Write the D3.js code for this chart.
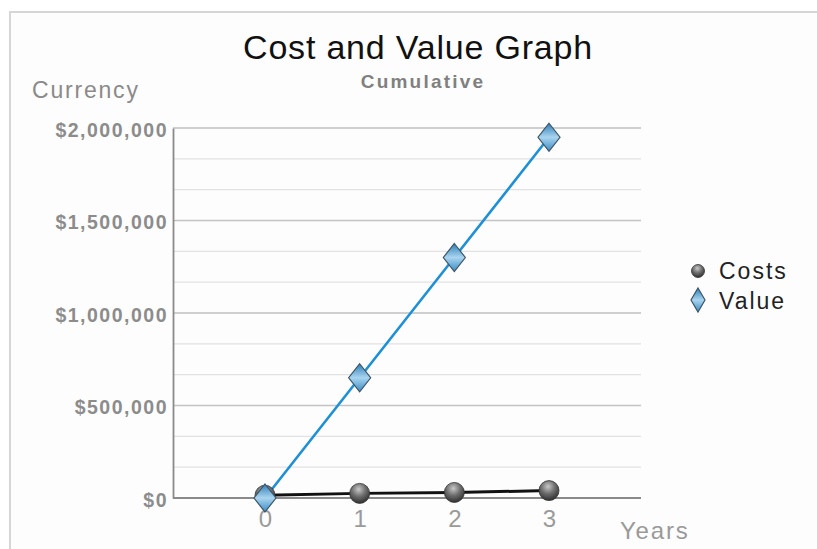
<!DOCTYPE html>
<html><head><meta charset="utf-8">
<script src="https://cdn.jsdelivr.net/npm/d3@7"></script>
<style>html,body{margin:0;padding:0;background:#fff;}svg{display:block;}</style>
</head><body>
<script>
const years = [0, 1, 2, 3];
const costs = [15000, 25000, 30000, 40000];
const values = [0, 650000, 1300000, 1950000];
const yTicks = [0, 500000, 1000000, 1500000, 2000000];
const seriesNames = ["Costs", "Value"];
const title = "Cost and Value Graph";
const subtitle = "Cumulative";
const yTitle = "Currency";
const xTitle = "Years";

(function () {
const W = 817, H = 549;
const FF = "Liberation Sans, Arial, Helvetica, sans-serif";
const svg = d3.select("body").append("svg").attr("width", W).attr("height", H);
const defs = svg.append("defs");
const g1 = defs.append("radialGradient").attr("id","ball").attr("cx","45%").attr("cy","30%").attr("r","70%");
g1.append("stop").attr("offset","0%").attr("stop-color","#c8c8c8");
g1.append("stop").attr("offset","50%").attr("stop-color","#6e6e6e");
g1.append("stop").attr("offset","100%").attr("stop-color","#303030");
const g2 = defs.append("linearGradient").attr("id","dia").attr("x1","0").attr("y1","0").attr("x2","0").attr("y2","1");
g2.append("stop").attr("offset","0%").attr("stop-color","#2f7fb8");
g2.append("stop").attr("offset","50%").attr("stop-color","#a9d4ef");
g2.append("stop").attr("offset","100%").attr("stop-color","#3a8cc6");

// frame
svg.append("rect").attr("x",0).attr("y",0).attr("width",W).attr("height",H).attr("fill","#fff");
svg.append("rect").attr("x",10).attr("y",12).attr("width",W).attr("height",H).attr("fill","#fdfdfd")
  .attr("stroke","#d6d6d6").attr("stroke-width",2);

const pL = 173, pR = 641, pT = 128, pB = 498;
const x = d3.scaleLinear().domain([0, 3]).range([265, 549]);
const y = d3.scaleLinear().domain([0, 2000000]).range([pB, pT]);

// grid
const minor = d3.range(0, 2000001, 2000000/12);
svg.append("g").selectAll("line").data(minor).join("line")
  .attr("x1", pL).attr("x2", pR).attr("y1", d => y(d)).attr("y2", d => y(d))
  .attr("stroke", "#e2e2e2").attr("stroke-width", 1.2);
svg.append("g").selectAll("line").data(yTicks).join("line")
  .attr("x1", pL).attr("x2", pR).attr("y1", d => y(d)).attr("y2", d => y(d))
  .attr("stroke", "#c4c4c4").attr("stroke-width", 1.4);

// axes
const yAxis = svg.append("g").attr("transform", `translate(${pL},0)`)
  .call(d3.axisLeft(y).tickValues(yTicks).tickSize(0).tickPadding(5).tickFormat(d => "$" + d3.format(",")(d)));
yAxis.select(".domain").attr("stroke", "#8a8a8a").attr("stroke-width", 1.8);
yAxis.selectAll("text").attr("font-family", FF).attr("font-size", 19.5).attr("dy", "0.42em")
  .attr("font-weight", "bold").attr("fill", "#8c8c8c").attr("letter-spacing", 1.5);

const xAxis = svg.append("g").attr("transform", `translate(0,${pB})`)
  .call(d3.axisBottom(x).tickValues(years).tickSize(0).tickPadding(12).tickFormat(d3.format("d")));
xAxis.select(".domain").remove();
svg.append("line").attr("x1", pL).attr("x2", pR).attr("y1", pB).attr("y2", pB)
  .attr("stroke", "#8a8a8a").attr("stroke-width", 1.8);
xAxis.selectAll("text").attr("font-family", FF).attr("font-size", 24).attr("fill", "#9a9a9a");

// titles
svg.append("text").attr("x", 418).attr("y", 59).attr("text-anchor", "middle")
  .attr("font-family", FF).attr("font-size", 34).attr("fill", "#111")
  .attr("letter-spacing", 0.8).text(title);
svg.append("text").attr("x", 423).attr("y", 88).attr("text-anchor", "middle")
  .attr("font-family", FF).attr("font-size", 19).attr("font-weight", "bold")
  .attr("fill", "#808080").attr("letter-spacing", 2.2).text(subtitle);
svg.append("text").attr("x", 32).attr("y", 98)
  .attr("font-family", FF).attr("font-size", 23)
  .attr("fill", "#8a8a8a").attr("letter-spacing", 1.8).text(yTitle);
svg.append("text").attr("x", 620).attr("y", 539)
  .attr("font-family", FF).attr("font-size", 24)
  .attr("fill", "#9a9a9a").attr("letter-spacing", 1.8).text(xTitle);

// lines
const line = d3.line().x((d, i) => x(years[i])).y(d => y(d));
svg.append("path").datum(costs).attr("d", line).attr("fill", "none").attr("stroke", "#111").attr("stroke-width", 3);
svg.append("path").datum(values).attr("d", line).attr("fill", "none").attr("stroke", "#1e90d8").attr("stroke-width", 2.6);

// markers
function diamond(sel, cx, cy, hw, hh) {
  sel.append("path").attr("d", `M${cx},${cy-hh}L${cx+hw},${cy}L${cx},${cy+hh}L${cx-hw},${cy}Z`)
    .attr("fill", "url(#dia)").attr("stroke", "#3c5566").attr("stroke-width", 1.2);
}
function ball(sel, cx, cy, r) {
  sel.append("circle").attr("cx", cx).attr("cy", cy).attr("r", r).attr("fill", "url(#ball)")
    .attr("stroke", "#333").attr("stroke-width", 0.8);
}
const mk = svg.append("g");
costs.forEach((d, i) => ball(mk, x(years[i]), y(d), 10));
values.forEach((d, i) => diamond(mk, x(years[i]), y(d), 11, 14));

// legend
const lg = svg.append("g");
ball(lg, 698, 271, 6.5);
diamond(lg, 698, 300, 7, 12);
[279, 309].forEach((yy, i) => {
  lg.append("text").attr("x", 719).attr("y", yy).attr("font-family", FF)
    .attr("font-size", 23).attr("fill", "#222").attr("letter-spacing", 2).text(seriesNames[i]);
});
})();
</script>
</body></html>
